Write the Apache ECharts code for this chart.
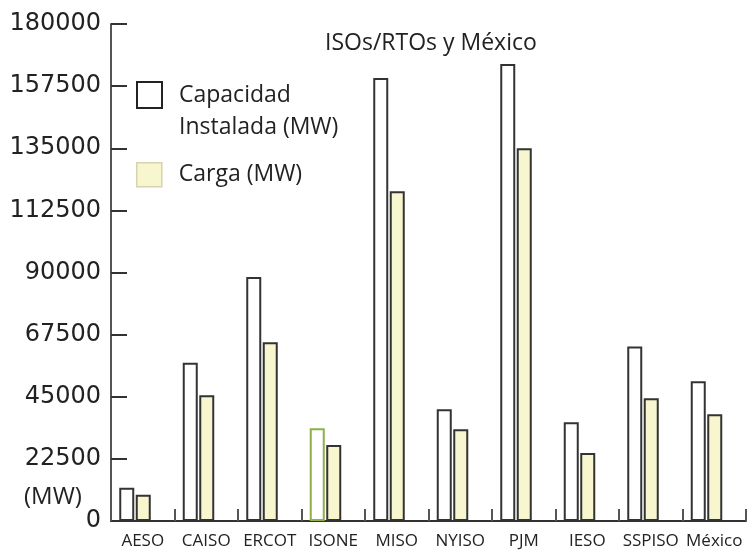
<!DOCTYPE html>
<html>
<head>
<meta charset="utf-8">
<script src="https://cdn.jsdelivr.net/npm/echarts@6/dist/echarts.min.js"></script>
<style>html,body{margin:0;padding:0;background:#fff}#c{width:747px;height:550px}</style>
</head>
<body>
<div id="c"></div>
<script>
const categories = ['AESO', 'CAISO', 'ERCOT', 'ISONE', 'MISO', 'NYISO', 'PJM', 'IESO', 'SSPISO', 'México'];
const capacidad = [12000, 57300, 88400, 33600, 160400, 40500, 165500, 35800, 63200, 50600];
const carga = [9500, 45500, 64700, 27500, 119400, 33200, 135000, 24600, 44500, 38700];
const yTicks = [0, 22500, 45000, 67500, 90000, 112500, 135000, 157500, 180000];
const titleText = 'ISOs/RTOs y México';
const unitText = '(MW)';
const capName = 'Capacidad Instalada (MW)';
const cargaName = 'Carga (MW)';

const FONT = '"Open Sans", "Noto Sans", sans-serif';
const chart = echarts.init(document.getElementById('c'), null, {renderer: 'canvas'});
chart.setOption({
  animation: false,
  backgroundColor: '#ffffff',
  title: [
    {text: titleText, left: 320, top: 27, textStyle: {fontFamily: FONT, fontSize: 23, fontWeight: 'normal', color: '#222'}},
    {text: unitText, left: 19, top: 480, textStyle: {fontFamily: FONT, fontSize: 24, fontWeight: 'normal', color: '#222'}}
  ],
  legend: [
    {
      left: 131, top: 42, orient: 'vertical', itemWidth: 25, itemHeight: 26, icon: 'rect',
      data: [{name: capName, itemStyle: {color: '#fff', borderColor: '#222', borderWidth: 2}}],
      formatter: function () { return ' \nCapacidad\nInstalada (MW)'; },
      textStyle: {fontFamily: FONT, fontSize: 23, color: '#222', lineHeight: 32, padding: [0, 0, 0, 12]},
      selectedMode: false
    },
    {
      left: 131, top: 157, orient: 'vertical', itemWidth: 25, itemHeight: 24, icon: 'rect',
      data: [{name: cargaName, itemStyle: {color: '#f8f6cf', borderColor: '#d6d4b0', borderWidth: 1.5}}],
      textStyle: {fontFamily: FONT, fontSize: 23, color: '#222', padding: [0, 0, 0, 12]},
      selectedMode: false
    }
  ],
  grid: {left: 111, right: 1, top: 24, bottom: 28, containLabel: false},
  xAxis: {
    type: 'category',
    data: categories,
    axisLine: {lineStyle: {color: '#333', width: 2}},
    axisTick: {show: true, inside: true, length: 12, alignWithLabel: false, lineStyle: {color: '#555', width: 2}},
    axisLabel: {fontFamily: FONT, fontSize: 17, color: '#222', margin: 12, interval: 0}
  },
  yAxis: {
    type: 'value',
    min: yTicks[0],
    max: yTicks[yTicks.length - 1],
    interval: yTicks[1] - yTicks[0],
    splitLine: {show: false},
    axisLine: {show: true, lineStyle: {color: '#555', width: 2}},
    axisTick: {show: true, inside: true, length: 16, lineStyle: {color: '#333', width: 2}},
    axisLabel: {fontFamily: '"DejaVu Sans", sans-serif', fontSize: 24, color: '#222', margin: 10, formatter: function (v) { return String(v); }}
  },
  series: [
    {
      name: capName, type: 'bar', barWidth: 15, barGap: '10%',
      data: capacidad.map(function (v, i) {
        return categories[i] === 'ISONE'
          ? {value: v, itemStyle: {borderColor: '#8db04a'}}
          : v;
      }),
      itemStyle: {color: '#ffffff', borderColor: '#333', borderWidth: 2}
    },
    {
      name: cargaName, type: 'bar', barWidth: 15, barGap: '10%',
      data: carga,
      itemStyle: {color: '#f8f6cf', borderColor: '#333', borderWidth: 2}
    },
    {
      name: 'spacer', type: 'bar', barWidth: 14, barGap: '10%',
      data: [], silent: true, itemStyle: {color: 'transparent'}
    }
  ]
});
</script>
</body>
</html>
